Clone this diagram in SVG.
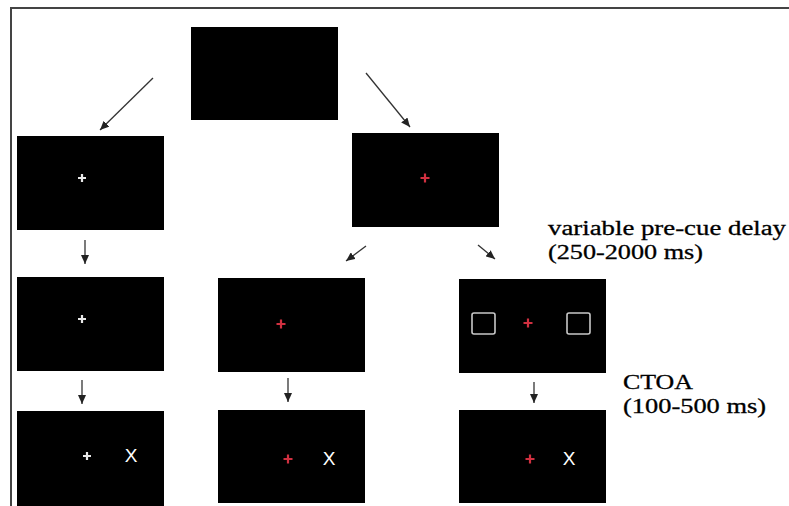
<svg xmlns="http://www.w3.org/2000/svg" width="789" height="506" viewBox="0 0 789 506">
  <style>
    .screen { fill: #000; }
    .frame { stroke: #444; stroke-width: 2; fill: none; }
    .conn { stroke: #333; stroke-width: 1.3; fill: none; marker-end: url(#head); }
    .fixw { stroke: #e8e8e8; stroke-width: 2.2; }
    .fixr { stroke: #d03040; stroke-width: 2.2; }
    .cue { fill: none; stroke: #c8c8c8; stroke-width: 1.6; }
    .target { font-family: "Liberation Sans", Arial, sans-serif; font-size: 19px; fill: #fff; text-anchor: middle; }
    .label { font-family: "Liberation Serif", "Times New Roman", serif; font-size: 20.5px; fill: #000; stroke: #000; stroke-width: 0.3; }
  </style>
  <defs>
    <marker id="head" markerWidth="9" markerHeight="8" refX="9" refY="4" orient="auto" markerUnits="userSpaceOnUse">
      <path d="M0,0 L9,4 L0,8 Z" fill="#222"/>
    </marker>
    <g id="crossW"><path class="fixw" d="M-4,0 H4 M0,-4 V4"/></g>
    <g id="crossR"><path class="fixr" d="M-4.5,0 H4.5 M0,-4.5 V4.5"/></g>
  </defs>

  <rect width="789" height="506" fill="#fff"/>
  <path class="frame" d="M789,8 H11 V506"/>

  <!-- start screen -->
  <g id="blank">
    <rect class="screen" x="191" y="27" width="147" height="93"/>
  </g>

  <!-- left branch: white fixation -->
  <g id="fix-white">
    <rect class="screen" x="17" y="136" width="147" height="94"/>
    <use href="#crossW" x="82" y="178"/>
  </g>
  <g id="fix-white-2">
    <rect class="screen" x="17" y="277" width="147" height="94"/>
    <use href="#crossW" x="82" y="319"/>
  </g>
  <g id="target-white">
    <rect class="screen" x="17" y="411" width="147" height="95"/>
    <use href="#crossW" x="87" y="456"/>
    <text class="target" x="131" y="462">X</text>
  </g>

  <!-- right branch: red fixation -->
  <g id="fix-red">
    <rect class="screen" x="352" y="133" width="147" height="94"/>
    <use href="#crossR" x="425" y="178"/>
  </g>
  <g id="fix-red-nocue">
    <rect class="screen" x="218" y="278" width="147" height="94"/>
    <use href="#crossR" x="281" y="324"/>
  </g>
  <g id="target-red-nocue">
    <rect class="screen" x="218" y="410" width="147" height="93"/>
    <use href="#crossR" x="288" y="459"/>
    <text class="target" x="329" y="465">X</text>
  </g>
  <g id="cue-boxes">
    <rect class="screen" x="459" y="279" width="147" height="94"/>
    <rect class="cue" x="472" y="313" width="23" height="21" rx="2"/>
    <rect class="cue" x="567" y="313" width="23" height="21" rx="2"/>
    <use href="#crossR" x="528" y="323"/>
  </g>
  <g id="target-red-cued">
    <rect class="screen" x="459" y="410" width="147" height="93"/>
    <use href="#crossR" x="530" y="459"/>
    <text class="target" x="569" y="465">X</text>
  </g>

  <!-- timing labels -->
  <g id="labels">
    <text class="label" x="548" y="235" textLength="238" lengthAdjust="spacingAndGlyphs">variable pre-cue delay</text>
    <text class="label" x="548" y="259" textLength="155" lengthAdjust="spacingAndGlyphs">(250-2000 ms)</text>
    <text class="label" x="623" y="389" textLength="70" lengthAdjust="spacingAndGlyphs">CTOA</text>
    <text class="label" x="623" y="413" textLength="143" lengthAdjust="spacingAndGlyphs">(100-500 ms)</text>
  </g>

  <!-- connectors -->
  <g id="connectors">
    <line class="conn" x1="153" y1="78" x2="100" y2="130"/>
    <line class="conn" x1="366" y1="73" x2="410" y2="127"/>
    <line class="conn" x1="85" y1="240" x2="85" y2="264"/>
    <line class="conn" x1="366" y1="246" x2="346" y2="261"/>
    <line class="conn" x1="478" y1="245" x2="495" y2="259"/>
    <line class="conn" x1="82" y1="380" x2="82" y2="404"/>
    <line class="conn" x1="288" y1="378" x2="288" y2="402"/>
    <line class="conn" x1="534" y1="382" x2="534" y2="403"/>
  </g>
</svg>
